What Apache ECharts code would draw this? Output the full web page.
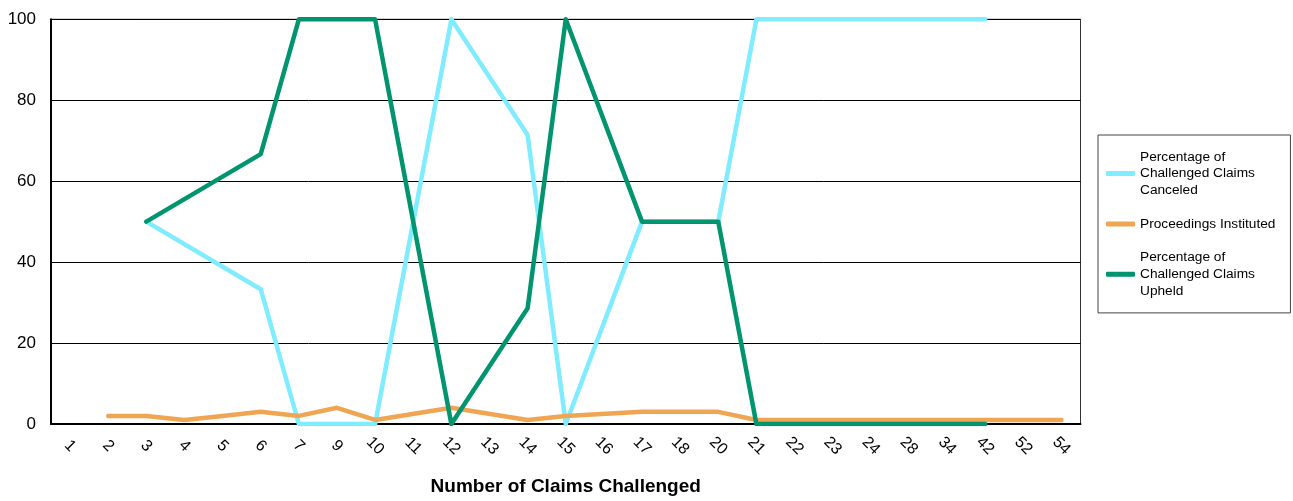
<!DOCTYPE html>
<html>
<head>
<meta charset="utf-8">
<script src="https://cdn.jsdelivr.net/npm/echarts@6/dist/echarts.min.js"></script>
<style>
  html, body { margin: 0; padding: 0; background: #fff; }
  #chart { width: 1293px; height: 501px; }
</style>
</head>
<body>
<div id="chart"></div>
<script>
// ---- data ----
const categories = ['1','2','3','4','5','6','7','9','10','11','12','13','14','15','16','17','18','20','21','22','23','24','28','34','42','52','54'];
const canceled   = [null, null, 50, null, null, 33.3, 0, 0, 0, null, 100, null, 71.4, 0, null, 50, 50, 50, 100, 100, 100, 100, 100, 100, 100, null, null];
const instituted = [null, 2, 2, 1, 2, 3, 2, 4, 1, null, 4, null, 1, 2, null, 3, 3, 3, 1, 1, 1, 1, 1, 1, 1, 1, 1];
const upheld     = [null, null, 50, null, null, 66.7, 100, 100, 100, null, 0, null, 28.6, 100, null, 50, 50, 50, 0, 0, 0, 0, 0, 0, 0, null, null];
const seriesNames = ['Percentage of Challenged Claims Canceled', 'Proceedings Instituted', 'Percentage of Challenged Claims Upheld'];
const legendLabels = ['Percentage of\nChallenged Claims\nCanceled', 'Proceedings Instituted', 'Percentage of\nChallenged Claims\nUpheld'];
const yTicks = { min: 0, max: 100, interval: 20 };
const xAxisTitle = 'Number of Claims Challenged';

const FONT = '"Liberation Sans", Arial, sans-serif';
const colors = ['#80ecff', '#f0a553', '#00956e'];

const chart = echarts.init(document.getElementById('chart'), null, { renderer: 'canvas' });
const seriesData = [canceled, instituted, upheld];
chart.setOption({
  animation: false,
  backgroundColor: '#ffffff',
  grid: {
    left: 51, right: 212.5, top: 19.3, bottom: 72,
    show: true, borderColor: '#333', borderWidth: 1, backgroundColor: 'transparent'
  },
  legend: {
    orient: 'vertical',
    left: 1098, top: 135,
    padding: [13.5, 15, 13.5, 8],
    itemGap: 17,
    itemWidth: 29, itemHeight: 5,
    icon: 'roundRect',
    borderColor: '#444', borderWidth: 1,
    data: seriesNames,
    formatter: function (n) { const i = seriesNames.indexOf(n); return i >= 0 ? legendLabels[i] : n; },
    textStyle: { fontFamily: FONT, fontSize: 13.7, lineHeight: 16.7, color: '#000' }
  },
  xAxis: {
    type: 'category',
    data: categories,
    boundaryGap: true,
    name: xAxisTitle,
    nameLocation: 'middle',
    nameGap: 53,
    nameTextStyle: { fontFamily: FONT, fontSize: 19, fontWeight: 'bold', color: '#000' },
    axisLine: { show: true, lineStyle: { color: '#000', width: 2 } },
    axisTick: { show: false },
    axisLabel: {
      interval: 0, rotate: -45, align: 'center', verticalAlign: 'middle', margin: 22,
      fontFamily: FONT, fontSize: 16, color: '#000'
    },
    splitLine: { show: false }
  },
  yAxis: {
    type: 'value',
    min: yTicks.min, max: yTicks.max, interval: yTicks.interval,
    axisLine: { show: true, lineStyle: { color: '#000', width: 2 } },
    axisTick: { show: false },
    axisLabel: { fontFamily: FONT, fontSize: 17, color: '#000', margin: 15 },
    splitLine: { show: true, lineStyle: { color: '#000', width: 1 } }
  },
  series: seriesNames.map((name, i) => ({
    name: name,
    type: 'line',
    data: seriesData[i],
    connectNulls: true,
    symbol: 'none',
    showSymbol: false,
    color: colors[i],
    lineStyle: { color: colors[i], width: 4.5, cap: 'round', join: 'round' },
    z: 2 + i
  }))
});
</script>
</body>
</html>
